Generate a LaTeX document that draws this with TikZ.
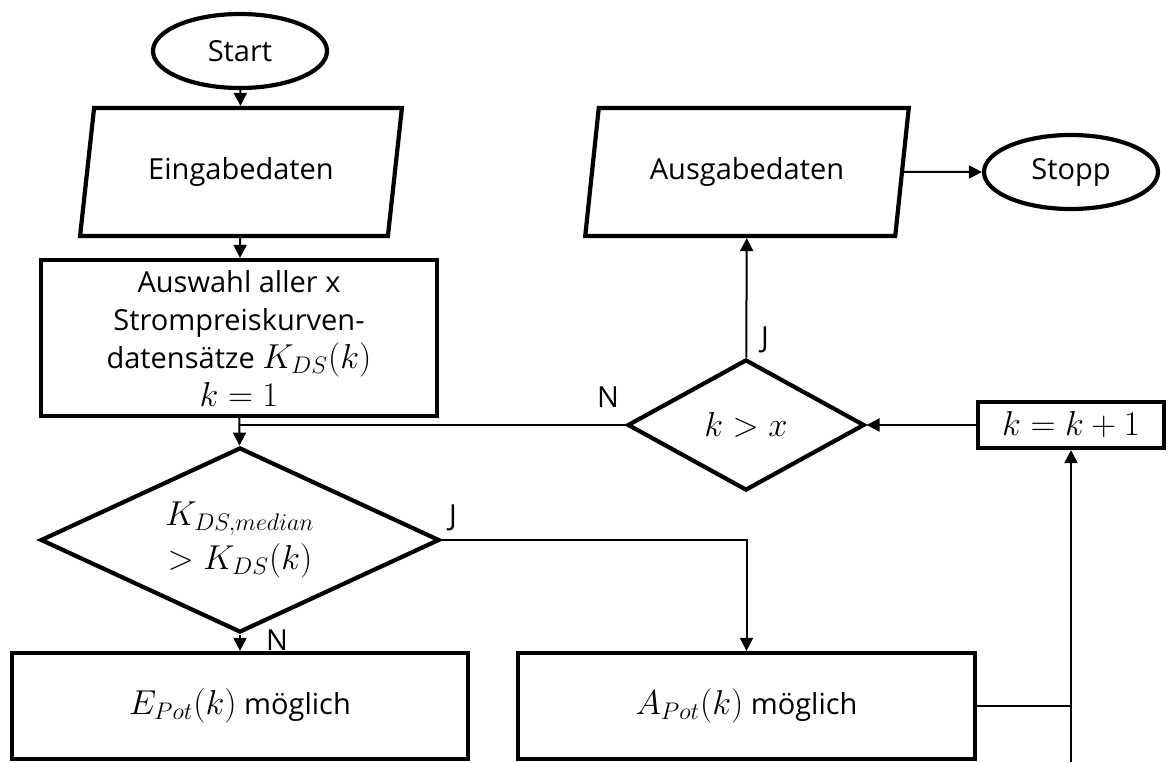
\documentclass[tikz,border=0pt]{standalone}
\usepackage{fontspec}
\setmainfont{Open Sans}
\usepackage{tikz}
\usetikzlibrary{arrows.meta,positioning,shapes.geometric}
\newcommand\mth[1]{{\fontsize{16.5}{19}\selectfont$#1$}}

\begin{document}
\begin{tikzpicture}[
  x=0.5pt,y=0.5pt,
  font=\fontsize{14.5}{19}\selectfont,
  box/.style={draw,line width=2.1pt,align=center,inner sep=2pt,fill=white},
  term/.style={box,ellipse,minimum width=87pt,minimum height=37pt},
  io/.style={box,trapezium,trapezium left angle=76,trapezium right angle=104,
             trapezium stretches=true,minimum width=161pt,minimum height=64pt},
  proc/.style={box,rectangle},
  dec/.style={box,diamond},
  lab/.style={inner sep=1pt},
  a/.style={-{Triangle[length=6.5pt,width=6.5pt]},line width=1pt},
  ln/.style={line width=1pt},
]
\useasboundingbox (0,0) rectangle (1168,762);

\node[term] (start) at (240,711) {Start};
\node[io] (ein) at (241,590) {Eingabedaten};
\node[proc,minimum width=198pt,minimum height=78pt] (sel) at (239,424)
  {Auswahl aller x\\ Strompreiskurven-\\ datensätze \mth{K_{DS}(k)}\\ \mth{k=1}};
\node[dec,aspect=2.15,minimum width=199.5pt,minimum height=92.5pt,
      font=\fontsize{16.5}{22}\selectfont] (kd) at (240,222)
  {$K_{DS,median}$\\ $>K_{DS}(k)$};
\node[proc,minimum width=228pt,minimum height=53pt] (epot) at (240,56) {\mth{E_{Pot}(k)} möglich};
\node[proc,minimum width=228.5pt,minimum height=53pt] (apot) at (746.5,56) {\mth{A_{Pot}(k)} möglich};

\node[dec,aspect=1.8,minimum width=118.5pt,minimum height=65.5pt] (kx) at (746,337) {\mth{k>x}};
\node[proc,minimum width=93pt,minimum height=23pt,inner sep=1pt] (inc) at (1071,337) {\mth{k=k+1}};
\node[io,minimum width=162pt] (aus) at (747,590) {Ausgabedaten};
\node[term] (stop) at (1071,590) {Stopp};
\coordinate (feed) at (1071,0);

\draw[a] (start) -- (ein);
\draw[a] (ein) -- (sel);
\draw[a] (sel) -- (kd);
\draw[a] (kd) -- (epot);
\draw[a] (kd.east) -| (apot.north);
\draw[ln] (apot.east) -- (apot.east -| feed);
\draw[a] (feed) -- (inc);
\draw[a] (inc) -- (kx);
\draw[ln] (kx.west) -- (kx.west -| sel.south);
\draw[a] (kx) -- (aus);
\draw[a] (aus.east) -- (stop.west);

\node[lab] (nkx) at (608,365) {N};
\node[lab] (jkx) at (765,422) {J};
\node[lab] (jkd) at (453,244) {J};
\node[lab] (nkd) at (277,122) {N};
\end{tikzpicture}
\end{document}
